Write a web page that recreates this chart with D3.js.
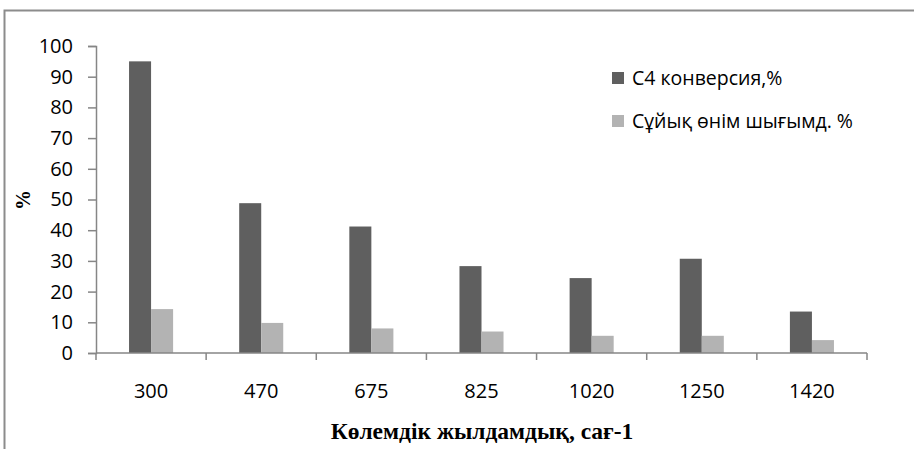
<!DOCTYPE html>
<html>
<head>
<meta charset="utf-8">
<script src="https://cdn.jsdelivr.net/npm/d3@7"></script>
<style>
  html, body { margin: 0; padding: 0; background: #fff; }
  svg { display: block; }
</style>
</head>
<body>
<svg id="chart" width="914" height="449"></svg>
<script>
// Space velocity categories (h-1)
const categories = ["300", "470", "675", "825", "1020", "1250", "1420"];
// C4 conversion, %
const conversion = [95, 48.8, 41.2, 28.3, 24.4, 30.7, 13.5];
// Liquid product yield, %
const liquidYield = [14.3, 9.8, 8.0, 7.0, 5.6, 5.6, 4.2];
const yTicks = [0, 10, 20, 30, 40, 50, 60, 70, 80, 90, 100];
const seriesNames = ["С4 конверсия,%", "Сұйық өнім шығымд. %"];
const seriesColors = ["#5f5f5f", "#b3b3b3"];

const svg = d3.select("#chart");
const W = 914, H = 449;
const margin = { left: 96, right: 47, top: 46, bottom: 96 };

// outer chart-area frame (top and left edges visible)
svg.append("path")
  .attr("d", `M4.5,${H} V10.5 H${W}`)
  .attr("fill", "none")
  .attr("stroke", "#8c8c8c")
  .attr("stroke-width", 2);

const x = d3.scaleBand()
  .domain(categories)
  .range([margin.left, W - margin.right])
  .paddingInner(0)
  .paddingOuter(0);

const y = d3.scaleLinear()
  .domain([0, 100])
  .range([H - margin.bottom, margin.top]);

const inner = d3.scaleBand()
  .domain([0, 1])
  .range([0, x.bandwidth()])
  .paddingInner(0)
  .paddingOuter(1.5);

const data = categories.map((c, i) => ({ c, v: [conversion[i], liquidYield[i]] }));

// bars
const groups = svg.append("g").selectAll("g")
  .data(data)
  .join("g")
  .attr("transform", d => `translate(${x(d.c)},0)`);

groups.selectAll("rect")
  .data(d => d.v.map((v, k) => ({ v, k })))
  .join("rect")
  .attr("x", d => inner(d.k))
  .attr("width", inner.bandwidth())
  .attr("y", d => y(d.v))
  .attr("height", d => y(0) - y(d.v))
  .attr("fill", d => seriesColors[d.k]);

// y axis
const yAxis = svg.append("g")
  .attr("transform", `translate(${margin.left},0)`)
  .call(d3.axisLeft(y).tickValues(yTicks).tickSize(8).tickPadding(15));
yAxis.select(".domain").attr("stroke", "#868686").attr("stroke-width", 1.5);
yAxis.selectAll(".tick line").attr("stroke", "#868686").attr("stroke-width", 1.5);
yAxis.selectAll(".tick text")
  .attr("fill", "#000")
  .style("font-family", "'Open Sans', sans-serif")
  .style("font-size", "20px");

// x axis with ticks on band boundaries
const xAxisG = svg.append("g")
  .attr("transform", `translate(0,${y(0)})`);
xAxisG.append("line")
  .attr("x1", margin.left).attr("x2", W - margin.right)
  .attr("stroke", "#868686").attr("stroke-width", 1.5);
const bounds = categories.map(c => x(c)).concat([x(categories[categories.length - 1]) + x.bandwidth()]);
xAxisG.selectAll("line.tk")
  .data(bounds)
  .join("line")
  .attr("class", "tk")
  .attr("x1", d => d).attr("x2", d => d)
  .attr("y1", 0).attr("y2", 7)
  .attr("stroke", "#868686").attr("stroke-width", 1.5);
xAxisG.selectAll("text")
  .data(categories)
  .join("text")
  .attr("x", d => x(d) + x.bandwidth() / 2)
  .attr("y", 45)
  .attr("text-anchor", "middle")
  .style("font-family", "'Open Sans', sans-serif")
  .style("font-size", "20px")
  .text(d => d);

// axis titles
svg.append("text")
  .attr("transform", `translate(30,200) rotate(-90)`)
  .attr("text-anchor", "middle")
  .style("font-family", "'Liberation Serif', serif")
  .style("font-weight", "bold")
  .style("font-size", "20px")
  .text("%");

svg.append("text")
  .attr("x", 482)
  .attr("y", 439)
  .attr("text-anchor", "middle")
  .style("font-family", "'Liberation Serif', serif")
  .style("font-weight", "bold")
  .style("font-size", "23.5px")
  .text("Көлемдік жылдамдық, сағ-1");

// legend
const legend = svg.append("g").attr("transform", "translate(612,72)");
const items = legend.selectAll("g")
  .data(seriesNames)
  .join("g")
  .attr("transform", (d, i) => `translate(0,${i * 43})`);
items.append("rect")
  .attr("width", 12).attr("height", 12)
  .attr("fill", (d, i) => seriesColors[i]);
items.append("text")
  .attr("x", 20).attr("y", 12.5)
  .style("font-family", "'Open Sans', sans-serif")
  .style("font-size", "19.5px")
  .text(d => d);
</script>
</body>
</html>
